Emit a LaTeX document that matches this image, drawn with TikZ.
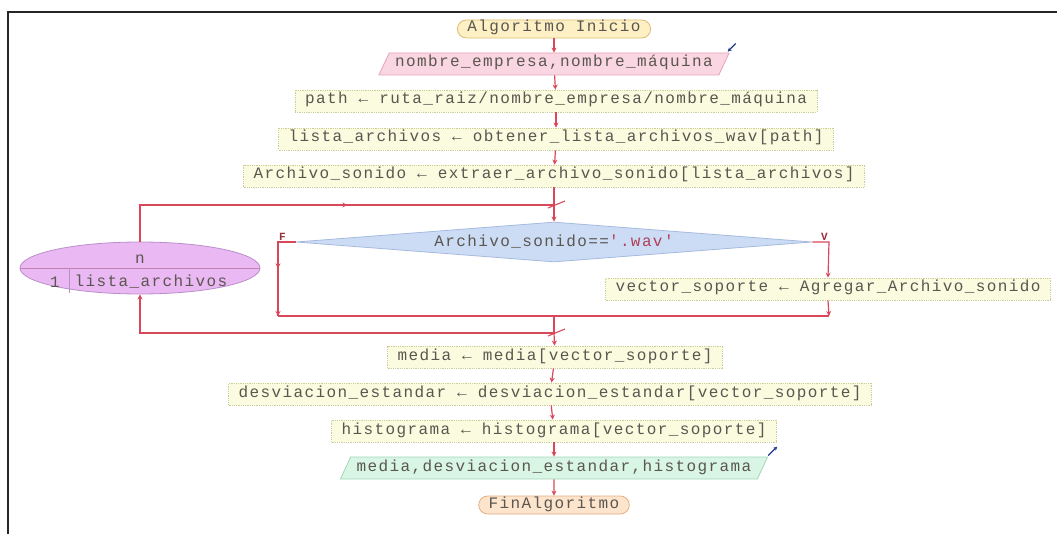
\documentclass[tikz,border=0pt]{standalone}
\usepackage{fontspec}
\newfontfamily\codefont[LetterSpace=8.75]{Liberation Mono}
\usetikzlibrary{shapes.geometric,arrows.meta,decorations.markings}

\definecolor{flowred}{HTML}{D9485A}
\definecolor{txt}{HTML}{5A5650}
\definecolor{strtxt}{HTML}{B0405A}
\definecolor{boxfill}{HTML}{FBFBE0}
\definecolor{boxline}{HTML}{CDCD98}
\definecolor{startfill}{HTML}{FCF0C4}
\definecolor{startline}{HTML}{DDBB70}
\definecolor{endfill}{HTML}{FDE4CC}
\definecolor{endline}{HTML}{E3AE80}
\definecolor{infill}{HTML}{FAD6E2}
\definecolor{inline}{HTML}{E6A2BA}
\definecolor{outfill}{HTML}{D9F5E4}
\definecolor{outline}{HTML}{A2D6B8}
\definecolor{decfill}{HTML}{CCDCF4}
\definecolor{decline}{HTML}{A6BADF}
\definecolor{loopfill}{HTML}{EAB8F2}
\definecolor{loopline}{HTML}{B98FC9}
\definecolor{iconblue}{HTML}{1F3A8A}

\tikzset{
  codetext/.style={font=\codefont\fontsize{16}{18}\selectfont, text=txt},
  sizing/.style={text height=10pt, text depth=4pt, inner ysep=4pt, inner xsep=10pt},
  stepbox/.style={codetext, sizing, draw=boxline, densely dotted, fill=boxfill, line width=0.8pt},
  terminal/.style={codetext, sizing, draw=#1line, fill=#1fill, rounded corners=9pt, line width=0.8pt, text height=9pt, text depth=3pt, inner ysep=3pt},
  iobox/.style={codetext, sizing, trapezium, trapezium left angle=65, trapezium right angle=115,
    trapezium stretches body, inner xsep=6pt, draw=#1line, fill=#1fill, line width=0.8pt},
  flow/.style={draw=flowred, line width=1.2pt, -{Stealth[length=5pt,width=5pt]}},
  plain/.style={draw=flowred, line width=1.2pt},
  tick/.style={draw=flowred, line width=1.1pt},
  midarrow/.style={postaction={decorate}, decoration={markings,
    mark=at position #1 with {\arrow{Stealth[length=5pt,width=5pt]}}}},
  branchlabel/.style={font=\codefont\bfseries\fontsize{11}{12}\selectfont, text=flowred!70!black, inner sep=1pt},
  icon/.style={draw=iconblue, line width=1.3pt, -{Stealth[length=4pt,width=4pt]}}
}

\begin{document}
\begin{tikzpicture}[x=1pt, y=-1pt]
  \useasboundingbox (0,0) rectangle (1057,534);

  % page frame (top and left edges)
  \draw[line width=2.2pt, black!85] (8,534) -- (8,12) -- (1057,12);

  % main column
  \node[terminal=start] (start) at (554,29) {Algoritmo Inicio};
  \node[iobox=in] (inp) at (554,64) {nombre\_empresa,nombre\_máquina};
  \node[stepbox] (path) at (556,101) {path ← ruta\_raiz/nombre\_empresa/nombre\_máquina};
  \node[stepbox] (lista) at (556,139) {lista\_archivos ← obtener\_lista\_archivos\_wav[path]};
  \node[stepbox] (arch) at (554,176) {Archivo\_sonido ← extraer\_archivo\_sonido[lista\_archivos]};

  \node[diamond, draw=decline, fill=decfill, line width=0.8pt, aspect=13,
        minimum width=516pt, minimum height=40pt, inner sep=0pt] (dec) at (554,242) {};
  \node[codetext] (dectext) at (dec.center) {Archivo\_sonido==\textcolor{strtxt}{'.wav'}};
  \node[stepbox] (vec) at (828,289) {vector\_soporte ← Agregar\_Archivo\_sonido};

  \node[stepbox] (media) at (555,357) {media ← media[vector\_soporte]};
  \node[stepbox] (desv) at (550,394) {desviacion\_estandar ← desviacion\_estandar[vector\_soporte]};
  \node[stepbox] (hist) at (554,431) {histograma ← histograma[vector\_soporte]};
  \node[iobox=out] (outp) at (554,468) {media,desviacion\_estandar,histograma};
  \node[terminal=end] (fin) at (554,505) {FinAlgoritmo};

  % loop node
  \node[ellipse, draw=loopline, fill=loopfill, line width=0.8pt,
        minimum width=240pt, minimum height=52pt] (loop) at (140,268) {};
  \draw[loopline!80!flowred, line width=0.8pt] (loop.west) -- (loop.east);
  \draw[loopline, line width=0.8pt] (69,268) -- (69,293.5);
  \node[codetext] (loopvar) at (140,259) {n};
  \node[codetext] (loopstart) at (55,282) {1};
  \node[codetext, anchor=west] (loopset) at (71,282) {lista\_archivos};

  % junction points
  \coordinate (jtop) at (554,205);
  \coordinate (ltop) at (140,205);
  \coordinate (fcorner) at (278,242);
  \coordinate (fbottom) at (278,316);
  \coordinate (vcorner) at (829,242);
  \coordinate (vbottom) at (829,316);
  \coordinate (jmid) at (554,316);
  \coordinate (jbot) at (554,333);

  % straight connectors
  \draw[flow] (start) -- (inp);
  \draw[flow] (inp) -- (path);
  \draw[flow] (path) -- (lista);
  \draw[flow] (lista) -- (arch);
  \draw[flow] (arch) -- (dec.north);
  \draw[flow] (jbot) -- (media);
  \draw[flow] (media) -- (desv);
  \draw[flow] (desv) -- (hist);
  \draw[flow] (hist) -- (outp);
  \draw[flow] (outp) -- (fin);

  % loop back-edges
  \draw[plain, midarrow=244pt] (loop.north) -- (ltop) -- (jtop);
  \draw[flow] (jbot) -| (loop.south);

  % false branch
  \draw[plain, midarrow=0.48] (dec.west) -- (fcorner) -- (fbottom);
  \draw[flow] (fcorner |- 0,310) -- (fbottom);
  \node[branchlabel, anchor=south west] (flabel) at (fcorner) {F};

  % true branch
  \draw[flow] (dec.east) -- (vcorner) -- (vec.north);
  \node[branchlabel, anchor=south east] (vlabel) at (vcorner) {V};
  \draw[flow] (vec.south) -- (vbottom);

  % merge of both branches
  \draw[plain] (fbottom) -- (vbottom);
  \draw[plain] (jmid) -- (jbot);

  % junction ticks
  \draw[tick] (548,208) -- (565,201);
  \draw[tick] (548,336) -- (565,329);

  % read / write markers
  \draw[icon] ([shift={(6,-9)}]inp.top right corner) -- ([shift={(-2,-1)}]inp.top right corner);
  \draw[icon] ([shift={(0,-1)}]outp.top right corner) -- ([shift={(9,-10)}]outp.top right corner);
\end{tikzpicture}
\end{document}
